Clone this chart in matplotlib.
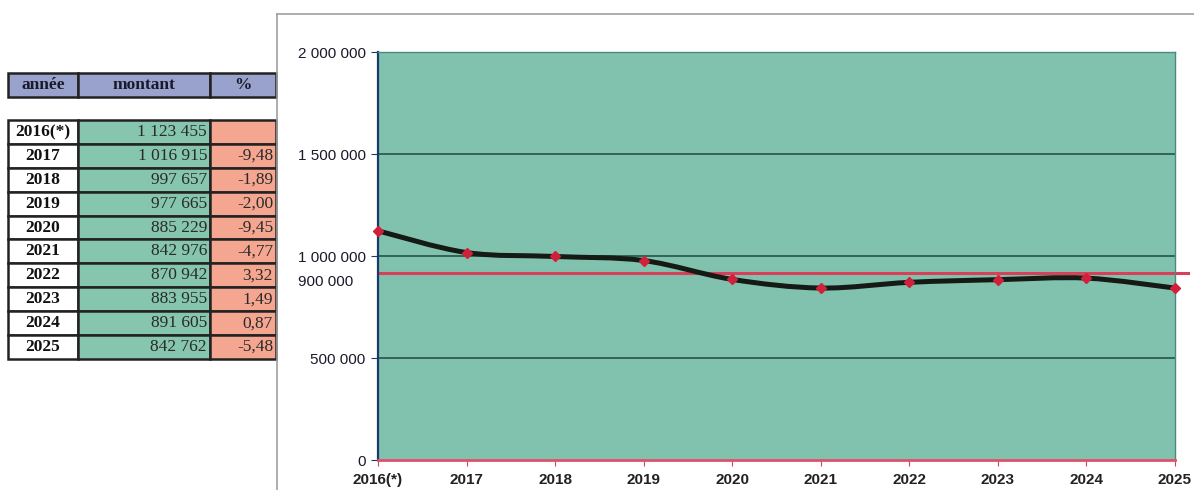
import matplotlib
matplotlib.use("Agg")
import matplotlib.pyplot as plt
from matplotlib.patches import Rectangle, PathPatch
from matplotlib.path import Path
import numpy as np

years = ["2016(*)", "2017", "2018", "2019", "2020", "2021", "2022", "2023", "2024", "2025"]
montants = [1123455, 1016915, 997657, 977665, 885229, 842976, 870942, 883955, 891605, 842762]
montant_labels = ["1 123 455", "1 016 915", "997 657", "977 665", "885 229",
                  "842 976", "870 942", "883 955", "891 605", "842 762"]
pct_labels = ["", "-9,48", "-1,89", "-2,00", "-9,45", "-4,77", "3,32", "1,49", "0,87", "-5,48"]
headers = ["année", "montant", "%"]
y_ticks = [0, 500000, 1000000, 1500000, 2000000]
y_tick_labels = ["0", "500 000", "1 000 000", "1 500 000", "2 000 000"]
ref_value = 915000
ref_label = "900 000"

W, H = 1194, 490
fig = plt.figure(figsize=(W / 100, H / 100), dpi=100)
fig.patch.set_facecolor("white")

def fx(px):
    return px / W

def fy(py):
    return 1 - py / H

# ---- chart outer frame (top & left border)
fig.add_artist(plt.Line2D([fx(277), fx(1194)], [fy(14), fy(14)], color="#a0a0a0", lw=1.2))
fig.add_artist(plt.Line2D([fx(277), fx(277)], [fy(14), fy(490)], color="#a0a0a0", lw=1.2))

# ---- axes
ax = fig.add_axes([fx(378), fy(460), fx(1175) - fx(378), (460 - 52) / H])
ax.set_facecolor("#80c2ae")
x = np.arange(len(years))
ax.set_xlim(0, len(years) - 1)
ax.set_ylim(0, 2000000)
ax.set_yticks(y_ticks)
ax.set_yticklabels(y_tick_labels, fontfamily="Liberation Sans", fontsize=11, color="#1a1a28")
ax.set_xticks(x)
ax.set_xticklabels(years, fontfamily="Liberation Sans", fontsize=11, fontweight="bold", color="#222222")
ax.tick_params(axis="y", length=5, color="#1a3a6a", pad=4)
ax.tick_params(axis="x", length=4, color="#d04060", pad=5)
for yv_ in y_ticks[1:-1]:
    ax.axhline(yv_, color="#1f4a3a", lw=1.1, zorder=1)
for s in ["top", "right"]:
    ax.spines[s].set_color("#4a8a80")
    ax.spines[s].set_linewidth(1.0)
ax.spines["left"].set_color("#1a3a6a")
ax.spines["left"].set_linewidth(1.6)
ax.spines["bottom"].set_color("#e0506a")
ax.spines["bottom"].set_linewidth(2.0)

# reference line (red) extending slightly beyond the plot
ax.plot([0, len(years) - 1 + 0.15], [ref_value, ref_value], color="#d8405a", lw=2.2,
        clip_on=False, zorder=2)
ax.text(-0.28, ref_value - 40000, ref_label, ha="right", va="center",
        fontfamily="Liberation Sans", fontsize=11, color="#1a1a28", transform=ax.transData)

# smoothed curve (Catmull-Rom-like Bezier through data points)
yv = np.array(montants, dtype=float)
n = len(yv)
verts = [(x[0], yv[0])]
codes = [Path.MOVETO]
t = 1 / 6
for i in range(n - 1):
    p0 = (x[max(i - 1, 0)], yv[max(i - 1, 0)])
    p1 = (x[i], yv[i])
    p2 = (x[i + 1], yv[i + 1])
    p3 = (x[min(i + 2, n - 1)], yv[min(i + 2, n - 1)])
    c1 = (p1[0] + (p2[0] - p0[0]) * t, p1[1] + (p2[1] - p0[1]) * t)
    c2 = (p2[0] - (p3[0] - p1[0]) * t, p2[1] - (p3[1] - p1[1]) * t)
    verts += [c1, c2, p2]
    codes += [Path.CURVE4] * 3
ax.add_patch(PathPatch(Path(verts, codes), facecolor="none", edgecolor="#151a15",
                       lw=3.6, zorder=3, clip_on=False))
ax.plot(x, yv, linestyle="none", marker="D", markersize=5, color="#d0203a",
        zorder=4, clip_on=False)

# ---- table
col_x = [8, 78, 210, 276]
hdr_top, hdr_bot = 73, 97
row_top = 120
row_h = 23.9
hdr_color = "#98a2cc"
green = "#86c6ae"
salmon = "#f5a690"
for j, h in enumerate(headers):
    fig.add_artist(Rectangle((fx(col_x[j]), fy(hdr_bot)), fx(col_x[j + 1] - col_x[j]),
                             (hdr_bot - hdr_top) / H, facecolor=hdr_color,
                             edgecolor="#222222", lw=1.8))
    fig.text(fx((col_x[j] + col_x[j + 1]) / 2), fy((hdr_top + hdr_bot) / 2), h,
             ha="center", va="center", fontfamily="Liberation Serif",
             fontweight="bold", fontsize=12.5, color="#1a1a2a")

for i in range(len(years)):
    top = row_top + i * row_h
    bot = top + row_h
    fills = ["white", green, salmon]
    texts = [years[i], montant_labels[i], pct_labels[i]]
    for j in range(3):
        fig.add_artist(Rectangle((fx(col_x[j]), fy(bot)), fx(col_x[j + 1] - col_x[j]),
                                 row_h / H, facecolor=fills[j], edgecolor="#222222", lw=1.8))
        if j == 0:
            fig.text(fx((col_x[0] + col_x[1]) / 2), fy((top + bot) / 2), texts[j],
                     ha="center", va="center", fontfamily="Liberation Serif",
                     fontweight="bold", fontsize=12.5, color="#111111")
        else:
            fig.text(fx(col_x[j + 1] - 3), fy((top + bot) / 2), texts[j],
                     ha="right", va="center", fontfamily="Liberation Serif",
                     fontsize=12.5, color="#2a2a2a")

fig.savefig("out.png", dpi=100)
